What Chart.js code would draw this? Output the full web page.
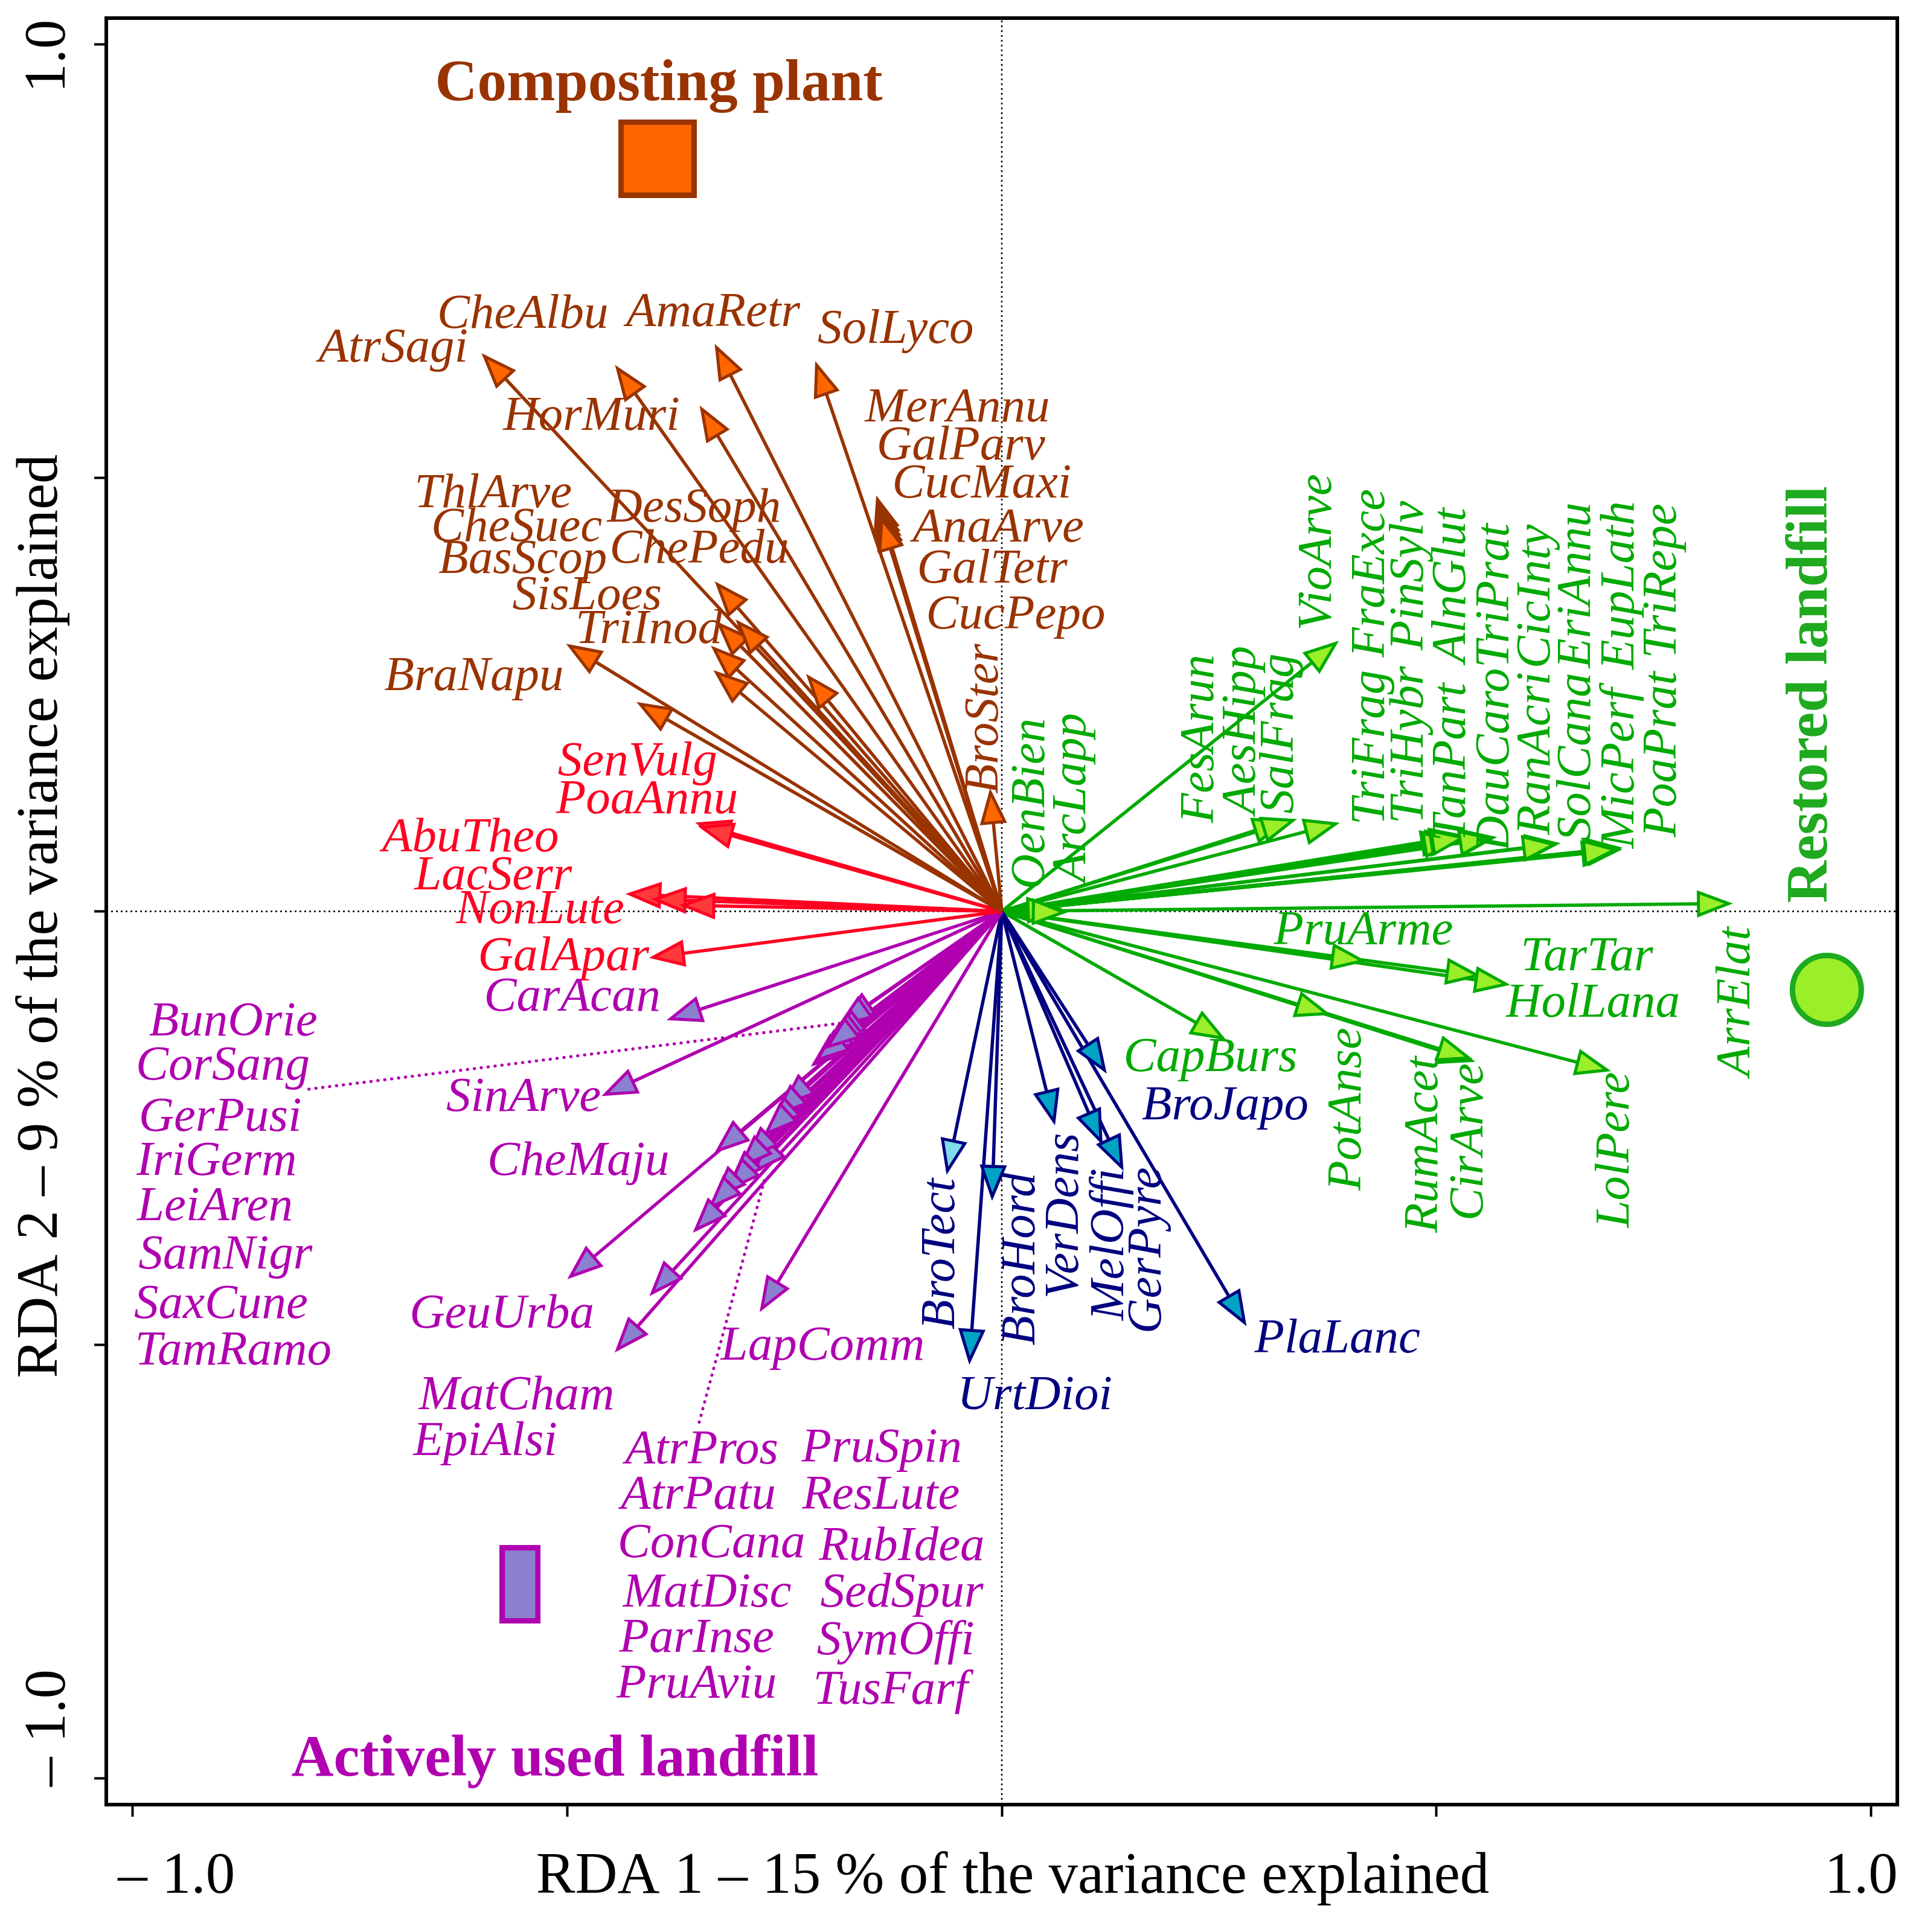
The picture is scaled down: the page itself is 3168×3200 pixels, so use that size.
<!DOCTYPE html>
<html>
<head>
<meta charset="utf-8">
<script src="https://cdn.jsdelivr.net/npm/chart.js@4.4.0/dist/chart.umd.min.js"></script>
<style>
  html, body { margin: 0; padding: 0; background: #fff; }
  canvas { display: block; }
</style>
</head>
<body>
<canvas id="rdaChart" width="3168" height="3200" style="width:3168px;height:3200px"></canvas>
<script>
// composting plant species (brown)
var compostNames = ['AtrSagi', 'CheAlbu', 'AmaRetr', 'HorMuri', 'SolLyco', 'MerAnnu', 'GalParv', 'CucMaxi', 'AnaArve', 'GalTetr', 'CucPepo', 'ThlArve', 'CheSuec', 'BasScop', 'SisLoes', 'TriInod', 'DesSoph', 'ChePedu', 'BraNapu', 'BroSter'];
var compostX = [-0.595, -0.442, -0.328, -0.345, -0.213, -0.143, -0.142, -0.141, -0.139, -0.139, -0.138, -0.327, -0.325, -0.331, -0.328, -0.303, -0.222, -0.416, -0.497, -0.013];
var compostY = [0.640, 0.626, 0.650, 0.579, 0.630, 0.475, 0.469, 0.464, 0.458, 0.454, 0.452, 0.377, 0.331, 0.303, 0.275, 0.333, 0.270, 0.239, 0.306, 0.137];
var compostLabelX = [-0.700, -0.551, -0.332, -0.472, -0.122, -0.051, -0.047, -0.023, -0.004, -0.011, 0.016, -0.585, -0.558, -0.551, -0.477, -0.406, -0.354, -0.348, -0.607, -0.020];
var compostLabelY = [0.649, 0.688, 0.690, 0.570, 0.670, 0.580, 0.536, 0.492, 0.441, 0.394, 0.341, 0.481, 0.442, 0.405, 0.363, 0.324, 0.464, 0.417, 0.270, 0.222];
var compostVertical = [0, 0, 0, 0, 0, 0, 0, 0, 0, 0, 0, 0, 0, 0, 0, 0, 0, 0, 0, 1];

// red species
var weedNames = ['SenVulg', 'PoaAnnu', 'AbuTheo', 'LacSerr', 'NonLute', 'GalApar'];
var weedX = [-0.348, -0.345, -0.428, -0.399, -0.366, -0.401];
var weedY = [0.101, 0.097, 0.020, 0.014, 0.007, -0.053];
var weedLabelX = [-0.419, -0.408, -0.611, -0.585, -0.531, -0.504];
var weedLabelY = [0.172, 0.128, 0.084, 0.040, 0.001, -0.053];
var weedVertical = [0, 0, 0, 0, 0, 0];

// actively used landfill species (magenta)
var activeNames = ['CarAcan', 'SinArve', 'CheMaju', 'GeuUrba', 'MatCham', 'EpiAlsi', 'LapComm', 'BunOrie', 'CorSang', 'GerPusi', 'IriGerm', 'LeiAren', 'SamNigr', 'SaxCune', 'TamRamo', 'AtrPros', 'AtrPatu', 'ConCana', 'MatDisc', 'ParInse', 'PruAviu', 'PruSpin', 'ResLute', 'RubIdea', 'SedSpur', 'SymOffi', 'TusFarf'];
var activeX = [-0.381, -0.456, -0.327, -0.496, -0.442, -0.402, -0.276, -0.182, -0.186, -0.193, -0.197, -0.207, -0.216, -0.212, -0.200, -0.251, -0.260, -0.267, -0.271, -0.284, -0.293, -0.300, -0.311, -0.314, -0.330, -0.335, -0.352];
var activeY = [-0.124, -0.211, -0.276, -0.421, -0.505, -0.440, -0.458, -0.127, -0.131, -0.147, -0.151, -0.164, -0.176, -0.171, -0.156, -0.223, -0.235, -0.249, -0.256, -0.299, -0.284, -0.294, -0.312, -0.320, -0.330, -0.341, -0.367];
var activeLabelX = [-0.494, -0.550, -0.487, -0.575, -0.558, -0.594, -0.206, -0.884, -0.896, -0.899, -0.903, -0.905, -0.893, -0.898, -0.884, -0.345, -0.349, -0.334, -0.339, -0.351, -0.351, -0.138, -0.139, -0.115, -0.115, -0.122, -0.128];
var activeLabelY = [-0.100, -0.215, -0.289, -0.465, -0.559, -0.612, -0.502, -0.128, -0.179, -0.238, -0.289, -0.341, -0.397, -0.454, -0.508, -0.622, -0.674, -0.730, -0.787, -0.839, -0.892, -0.620, -0.674, -0.733, -0.787, -0.842, -0.899];
var activeVertical = [0, 0, 0, 0, 0, 0, 0, 0, 0, 0, 0, 0, 0, 0, 0, 0, 0, 0, 0, 0, 0, 0, 0, 0, 0, 0, 0];
// dotted leader lines from the label lists to their arrow bundles
var leaderX = [[-0.797, -0.186], [-0.348, -0.273]];
var leaderY = [[-0.205, -0.129], [-0.589, -0.310]];

// navy species
var navyNames = ['BroTect', 'UrtDioi', 'BroHord', 'VerDens', 'MelOffi', 'GerPyre', 'BroJapo', 'PlaLanc'];
var navyX = [-0.0625, -0.037, -0.011, 0.060, 0.114, 0.138, 0.118, 0.279];
var navyY = [-0.299, -0.518, -0.329, -0.242, -0.265, -0.295, -0.183, -0.474];
var navyLabelX = [-0.070, 0.038, 0.023, 0.073, 0.125, 0.168, 0.257, 0.386];
var navyLabelY = [-0.395, -0.559, -0.401, -0.351, -0.384, -0.391, -0.225, -0.494];
var navyVertical = [1, 0, 1, 1, 1, 1, 0, 0];

// restored landfill species (green)
var restoredNames = ['OenBien', 'ArcLapp', 'FesArun', 'AesHipp', 'SalFrag', 'VioArve', 'TriFrag', 'FraExce', 'TriHybr', 'PinSylv', 'TanPart', 'AlnGlut', 'DauCaro', 'TriPrat', 'RanAcri', 'CicInty', 'SolCana', 'EriAnnu', 'MicPerf', 'EupLath', 'PoaPrat', 'TriRepe', 'ArrElat', 'PruArme', 'TarTar', 'HolLana', 'CapBurs', 'PotAnse', 'RumAcet', 'CirArve', 'LolPere'];
var restoredX = [0.065, 0.071, 0.325, 0.335, 0.384, 0.384, 0.518, 0.524, 0.527, 0.521, 0.528, 0.530, 0.565, 0.562, 0.638, 0.635, 0.709, 0.706, 0.707, 0.703, 0.709, 0.705, 0.836, 0.415, 0.547, 0.580, 0.254, 0.374, 0.540, 0.537, 0.696];
var restoredY = [0.003, -0.001, 0.104, 0.105, 0.101, 0.309, 0.084, 0.085, 0.084, 0.082, 0.087, 0.085, 0.085, 0.084, 0.078, 0.077, 0.071, 0.071, 0.073, 0.070, 0.073, 0.071, 0.009, -0.057, -0.074, -0.084, -0.146, -0.118, -0.172, -0.169, -0.183];
var restoredLabelX = [0.034, 0.081, 0.228, 0.276, 0.320, 0.364, 0.425, 0.425, 0.469, 0.469, 0.518, 0.518, 0.568, 0.568, 0.615, 0.615, 0.662, 0.662, 0.712, 0.712, 0.760, 0.760, 0.845, 0.416, 0.673, 0.680, 0.240, 0.398, 0.486, 0.538, 0.706];
var restoredLabelY = [0.124, 0.131, 0.199, 0.209, 0.205, 0.414, 0.189, 0.390, 0.192, 0.387, 0.172, 0.376, 0.175, 0.364, 0.182, 0.363, 0.178, 0.376, 0.165, 0.376, 0.181, 0.381, -0.104, -0.023, -0.053, -0.107, -0.169, -0.228, -0.269, -0.266, -0.275];
var restoredVertical = [1, 1, 1, 1, 1, 1, 1, 1, 1, 1, 1, 1, 1, 1, 1, 1, 1, 1, 1, 1, 1, 1, 1, 0, 0, 0, 0, 1, 1, 1, 1];

// site centroids and their titles
var siteNames = ['Composting plant', 'Actively used landfill', 'Restored landfill'];
var siteX = [-0.396, -0.554, 0.949];
var siteY = [0.868, -0.776, -0.0905];
var siteLabelX = [-0.3945, -0.514, 0.931];
var siteLabelY = [0.953, -0.979, 0.250];

var xTickLabels = ['\u2013 1.0', '1.0'];
var yTickLabels = ['\u2013 1.0', '1.0'];
var xTitle = 'RDA 1 \u2013 15 % of the variance explained';
var yTitle = 'RDA 2 \u2013 9 % of the variance explained';

var groups = [
  { names: compostNames, x: compostX, y: compostY, lx: compostLabelX, ly: compostLabelY, vert: compostVertical, line: '#993300', head: '#ff6600', text: '#993300' },
  { names: weedNames, x: weedX, y: weedY, lx: weedLabelX, ly: weedLabelY, vert: weedVertical, line: '#ff0022', head: '#ff3a3a', text: '#ff0022' },
  { names: activeNames, x: activeX, y: activeY, lx: activeLabelX, ly: activeLabelY, vert: activeVertical, line: '#b000b0', head: '#8c80d0', text: '#b000b0' },
  { names: navyNames, x: navyX, y: navyY, lx: navyLabelX, ly: navyLabelY, vert: navyVertical, line: '#000080', head: '#00a3c4', text: '#000080' },
  { names: restoredNames, x: restoredX, y: restoredY, lx: restoredLabelX, ly: restoredLabelY, vert: restoredVertical, line: '#00aa00', head: '#9aee2a', text: '#00aa00' }
];

function boxStyle(w, h, fill, stroke, lw) {
  var c = document.createElement('canvas');
  c.width = w; c.height = h;
  var g = c.getContext('2d');
  g.fillStyle = fill;
  g.fillRect(0, 0, w, h);
  g.lineWidth = lw;
  g.strokeStyle = stroke;
  g.strokeRect(lw / 2, lw / 2, w - lw, h - lw);
  return c;
}

var datasets = [];

// dotted zero lines
datasets.push({ data: [{ x: -1.03, y: 0 }, { x: 1.03, y: 0 }], showLine: true, borderColor: '#000', borderWidth: 2.5, borderDash: [3, 5], pointRadius: 0, order: 20 });
datasets.push({ data: [{ x: 0, y: -1.03 }, { x: 0, y: 1.03 }], showLine: true, borderColor: '#000', borderWidth: 2.5, borderDash: [3, 5], pointRadius: 0, order: 20 });

groups.forEach(function(gr) {
  gr.names.forEach(function(name, i) {
    datasets.push({
      label: name,
      data: [{ x: 0, y: 0 }, { x: gr.x[i], y: gr.y[i] }],
      showLine: true,
      borderColor: gr.line,
      borderWidth: 5.5,
      pointRadius: 0,
      headFill: (name === 'BroTect') ? '#80dcea' : gr.head,
      order: 10
    });
  });
});

for (var k = 0; k < leaderX.length; k++) {
  datasets.push({
    data: [{ x: leaderX[k][0], y: leaderY[k][0] }, { x: leaderX[k][1], y: leaderY[k][1] }],
    showLine: true, borderColor: '#b000b0', borderWidth: 5, borderDash: [0.5, 11],
    borderCapStyle: 'round', pointRadius: 0, order: 9
  });
}

datasets.push({ data: [{ x: siteX[0], y: siteY[0] }], pointStyle: boxStyle(130, 130, '#ff6600', '#993300', 9), pointRadius: 10, order: 1 });
datasets.push({ data: [{ x: siteX[1], y: siteY[1] }], pointStyle: boxStyle(68, 130, '#8c80d0', '#b000b0', 9), pointRadius: 10, order: 1 });
datasets.push({ data: [{ x: siteX[2], y: siteY[2] }], pointStyle: 'circle', pointRadius: 57, pointBorderWidth: 9, pointBackgroundColor: '#9aee2a', pointBorderColor: '#1faa1f', order: 1 });

var frame = {
  id: 'frame',
  afterDraw: function(chart) {
    var a = chart.chartArea, ctx = chart.ctx;
    ctx.save();
    ctx.lineWidth = 6;
    ctx.strokeStyle = '#000';
    ctx.strokeRect(a.left, a.top, a.right - a.left, a.bottom - a.top);
    ctx.restore();
  }
};

var arrowHeads = {
  id: 'arrowHeads',
  afterDatasetsDraw: function(chart) {
    var ctx = chart.ctx;
    chart.data.datasets.forEach(function(ds, i) {
      if (!ds.headFill) return;
      var pts = chart.getDatasetMeta(i).data;
      var a = pts[0], b = pts[1];
      var ang = Math.atan2(b.y - a.y, b.x - a.x);
      var len = 50, half = 19;
      var bx = b.x - len * Math.cos(ang), by = b.y - len * Math.sin(ang);
      ctx.save();
      ctx.beginPath();
      ctx.moveTo(b.x, b.y);
      ctx.lineTo(bx + half * Math.sin(ang), by - half * Math.cos(ang));
      ctx.lineTo(bx - half * Math.sin(ang), by + half * Math.cos(ang));
      ctx.closePath();
      ctx.fillStyle = ds.headFill;
      ctx.fill();
      ctx.lineWidth = 5;
      ctx.lineJoin = 'miter';
      ctx.strokeStyle = ds.borderColor;
      ctx.stroke();
      ctx.restore();
    });
  }
};

function putText(ctx, text, px, py, vertical, font, color, align, baseline) {
  ctx.save();
  ctx.translate(px, py);
  if (vertical) ctx.rotate(-Math.PI / 2);
  ctx.font = font;
  ctx.fillStyle = color;
  ctx.textAlign = align || 'center';
  ctx.textBaseline = baseline || 'middle';
  ctx.fillText(text, 0, 0);
  ctx.restore();
}

var textLayer = {
  id: 'textLayer',
  afterDraw: function(chart) {
    var ctx = chart.ctx, sx = chart.scales.x, sy = chart.scales.y, a = chart.chartArea;
    var labelFont = 'italic 81px "Liberation Serif"';
    groups.forEach(function(gr) {
      gr.names.forEach(function(name, i) {
        putText(ctx, name, sx.getPixelForValue(gr.lx[i]), sy.getPixelForValue(gr.ly[i]), gr.vert[i], labelFont, gr.text);
      });
    });
    var bold = 'bold 97px "Liberation Serif"';
    putText(ctx, siteNames[0], sx.getPixelForValue(siteLabelX[0]), sy.getPixelForValue(siteLabelY[0]), false, bold, '#993300');
    putText(ctx, siteNames[1], sx.getPixelForValue(siteLabelX[1]), sy.getPixelForValue(siteLabelY[1]), false, bold, '#b000b0');
    putText(ctx, siteNames[2], sx.getPixelForValue(siteLabelX[2]), sy.getPixelForValue(siteLabelY[2]), true, bold, '#1faa1f');

    var axisFont = '97px "Liberation Serif"';
    putText(ctx, xTickLabels[0], sx.getPixelForValue(-1) - 24, 3135, false, axisFont, '#000', 'left', 'alphabetic');
    putText(ctx, xTickLabels[1], sx.getPixelForValue(1) + 44, 3135, false, axisFont, '#000', 'right', 'alphabetic');
    putText(ctx, xTitle, 1677, 3135, false, axisFont, '#000', 'center', 'alphabetic');
    putText(ctx, yTickLabels[0], 107, sy.getPixelForValue(-1) - 84, true, axisFont, '#000', 'center', 'alphabetic');
    putText(ctx, yTickLabels[1], 107, sy.getPixelForValue(1) + 20, true, axisFont, '#000', 'center', 'alphabetic');
    putText(ctx, yTitle, 94, (a.top + a.bottom) / 2 + 8, true, axisFont, '#000', 'center', 'alphabetic');
  }
};

var ctx = document.getElementById('rdaChart').getContext('2d');
var rdaChart = new Chart(ctx, {
  type: 'scatter',
  data: { datasets: datasets },
  options: {
    responsive: false,
    animation: false,
    devicePixelRatio: 1,
    layout: { autoPadding: false, padding: { top: 30, right: 26, left: 0, bottom: 0 } },
    plugins: { legend: { display: false }, tooltip: { enabled: false } },
    scales: {
      x: {
        type: 'linear', min: -1.03, max: 1.03,
        afterFit: function(s) { s.height = 211; },
        ticks: { display: false, stepSize: 0.5, includeBounds: false },
        grid: { display: true, drawOnChartArea: false, drawTicks: true, tickLength: 20, tickWidth: 4, tickColor: '#000' },
        border: { display: true, color: '#000', width: 6 }
      },
      y: {
        type: 'linear', min: -1.03, max: 1.03,
        afterFit: function(s) { s.width = 176; },
        ticks: { display: false, stepSize: 0.5, includeBounds: false },
        grid: { display: true, drawOnChartArea: false, drawTicks: true, tickLength: 20, tickWidth: 4, tickColor: '#000' },
        border: { display: true, color: '#000', width: 6 }
      }
    }
  },
  plugins: [frame, arrowHeads, textLayer]
});
</script>
</body>
</html>
